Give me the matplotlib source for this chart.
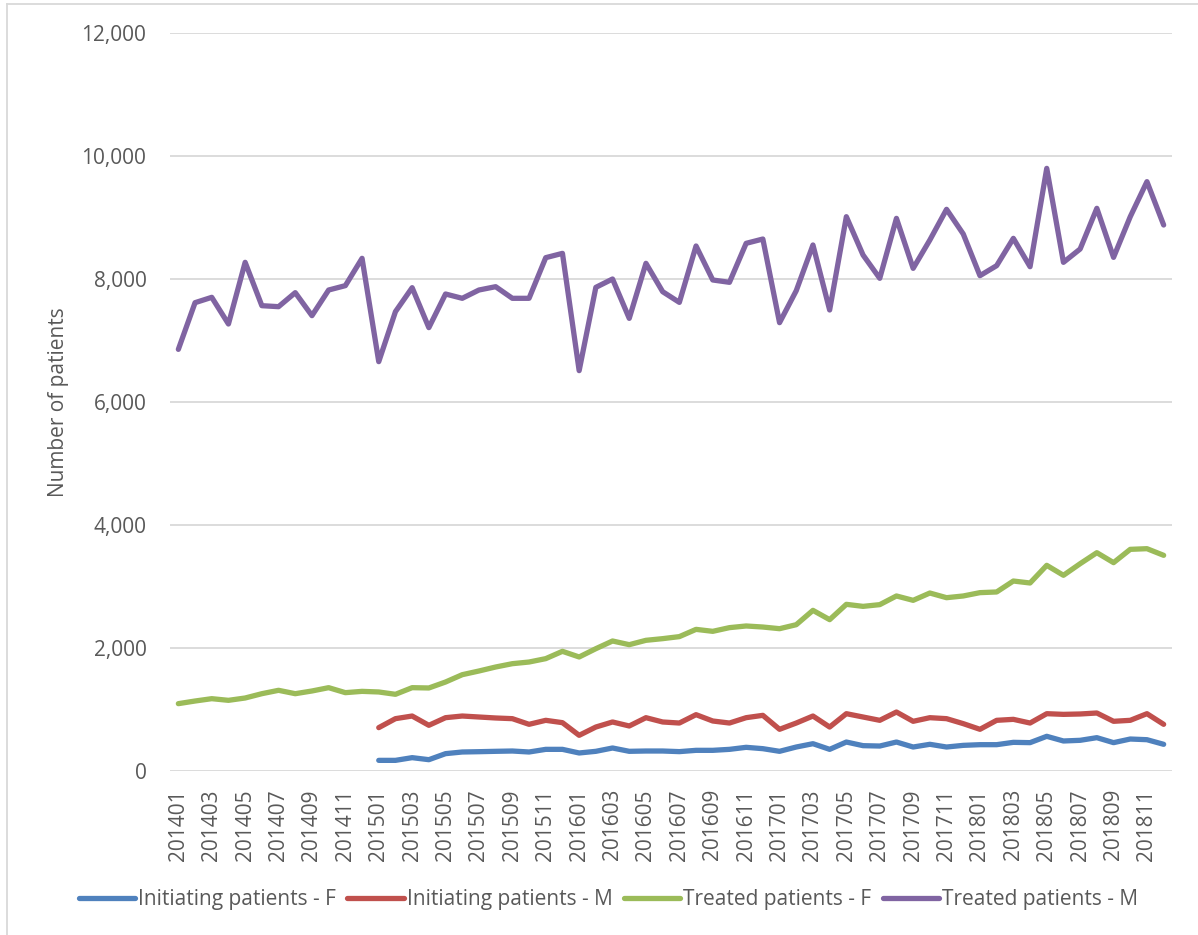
import matplotlib
matplotlib.use("Agg")
import matplotlib.pyplot as plt
import numpy as np
from matplotlib.lines import Line2D
from matplotlib.ticker import FuncFormatter

plt.rcParams["font.family"] = ["Open Sans", "DejaVu Sans"]

# months 201401 .. 201812
months = [f"{y}{m:02d}" for y in range(2014, 2019) for m in range(1, 13)]

# initiating patients only reported from 201501 (index 12)
init_f = [None] * 12 + [
    173, 173, 217, 184, 282, 309, 314, 320, 325, 309, 352, 352,
    293, 320, 374, 320, 325, 325, 315, 336, 336, 352, 385, 363,
    320, 390, 444, 352, 471, 412, 406, 471, 390, 434, 390, 417,
    428, 428, 466, 461, 564, 488, 499, 542, 461, 520, 509, 434,
]
init_m = [None] * 12 + [
    705, 851, 894, 743, 867, 894, 878, 862, 851, 759, 824, 786,
    580, 715, 797, 732, 867, 797, 780, 916, 813, 780, 867, 905,
    678, 780, 894, 715, 932, 878, 824, 959, 808, 867, 851, 770,
    678, 824, 840, 780, 932, 921, 927, 943, 808, 824, 932, 759,
]
treat_f = [
    1095, 1138, 1176, 1149, 1187, 1257, 1312, 1257, 1301, 1355, 1274, 1295,
    1285, 1247, 1355, 1350, 1447, 1566, 1626, 1691, 1745, 1772, 1827, 1946,
    1854, 1989, 2114, 2054, 2125, 2152, 2185, 2303, 2271, 2331, 2358, 2341,
    2314, 2379, 2612, 2461, 2710, 2677, 2705, 2846, 2775, 2894, 2818, 2846,
    2900, 2911, 3089, 3057, 3344, 3182, 3371, 3550, 3388, 3604, 3615, 3507,
]
treat_m = [
    6856, 7615, 7702, 7268, 8271, 7566, 7550, 7778, 7404, 7821, 7892, 8336,
    6656, 7469, 7859, 7209, 7756, 7686, 7821, 7875, 7686, 7686, 8347, 8417,
    6510, 7864, 8000, 7360, 8255, 7794, 7620, 8537, 7984, 7946, 8580, 8650,
    7290, 7810, 8553, 7496, 9013, 8390, 8011, 8986, 8173, 8634, 9133, 8732,
    8054, 8217, 8661, 8200, 9799, 8271, 8488, 9149, 8352, 9013, 9583, 8878,
]

series = [
    ("Initiating patients - F", init_f, "#4F81BD"),
    ("Initiating patients - M", init_m, "#C0504D"),
    ("Treated patients - F", treat_f, "#9BBB59"),
    ("Treated patients - M", treat_m, "#8064A2"),
]

TXT = "#595959"
FS = 15

fig = plt.figure(figsize=(11.98, 9.35), dpi=100)
ax = fig.add_axes([170 / 1198, 164 / 935, 1002 / 1198, 738 / 935])

x = np.arange(len(months))
for lab, vals, col in series:
    y = np.array([np.nan if v is None else v for v in vals], dtype=float)
    ax.plot(x, y, color=col, lw=3.8, solid_capstyle="round",
            solid_joinstyle="round", label=lab)

ax.set_xlim(-0.5, len(months) - 0.5)
ax.set_ylim(0, 12000)
ax.set_yticks(np.arange(0, 12001, 2000))
ax.yaxis.set_major_formatter(FuncFormatter(lambda v, p: f"{int(v):,}"))
ax.set_xticks(x[::2])
ax.set_xticklabels(months[::2], rotation=90)
ax.tick_params(axis="both", length=0, labelsize=FS, colors=TXT)
ax.tick_params(axis="y", pad=17)
ax.tick_params(axis="x", pad=13)
ax.grid(axis="y", color="#D9D9D9", lw=1.3)
ax.set_axisbelow(True)
for s in ax.spines.values():
    s.set_visible(False)
ax.set_ylabel("Number of patients", fontsize=FS, color=TXT, labelpad=9)

fig.legend(loc="center", bbox_to_anchor=(0.508, 0.038), ncol=4, frameon=False,
           fontsize=FS, labelcolor=TXT, handlelength=2.7, handletextpad=0.15,
           columnspacing=0.55)

# chart border (visible on left and top only)
fig.add_artist(Line2D([7 / 1198, 7 / 1198], [0, 1 - 4 / 935],
                      transform=fig.transFigure, color="#D9D9D9", lw=1.3))
fig.add_artist(Line2D([7 / 1198, 1], [1 - 4 / 935, 1 - 4 / 935],
                      transform=fig.transFigure, color="#D9D9D9", lw=1.3))

fig.savefig("out.png", dpi=100)
